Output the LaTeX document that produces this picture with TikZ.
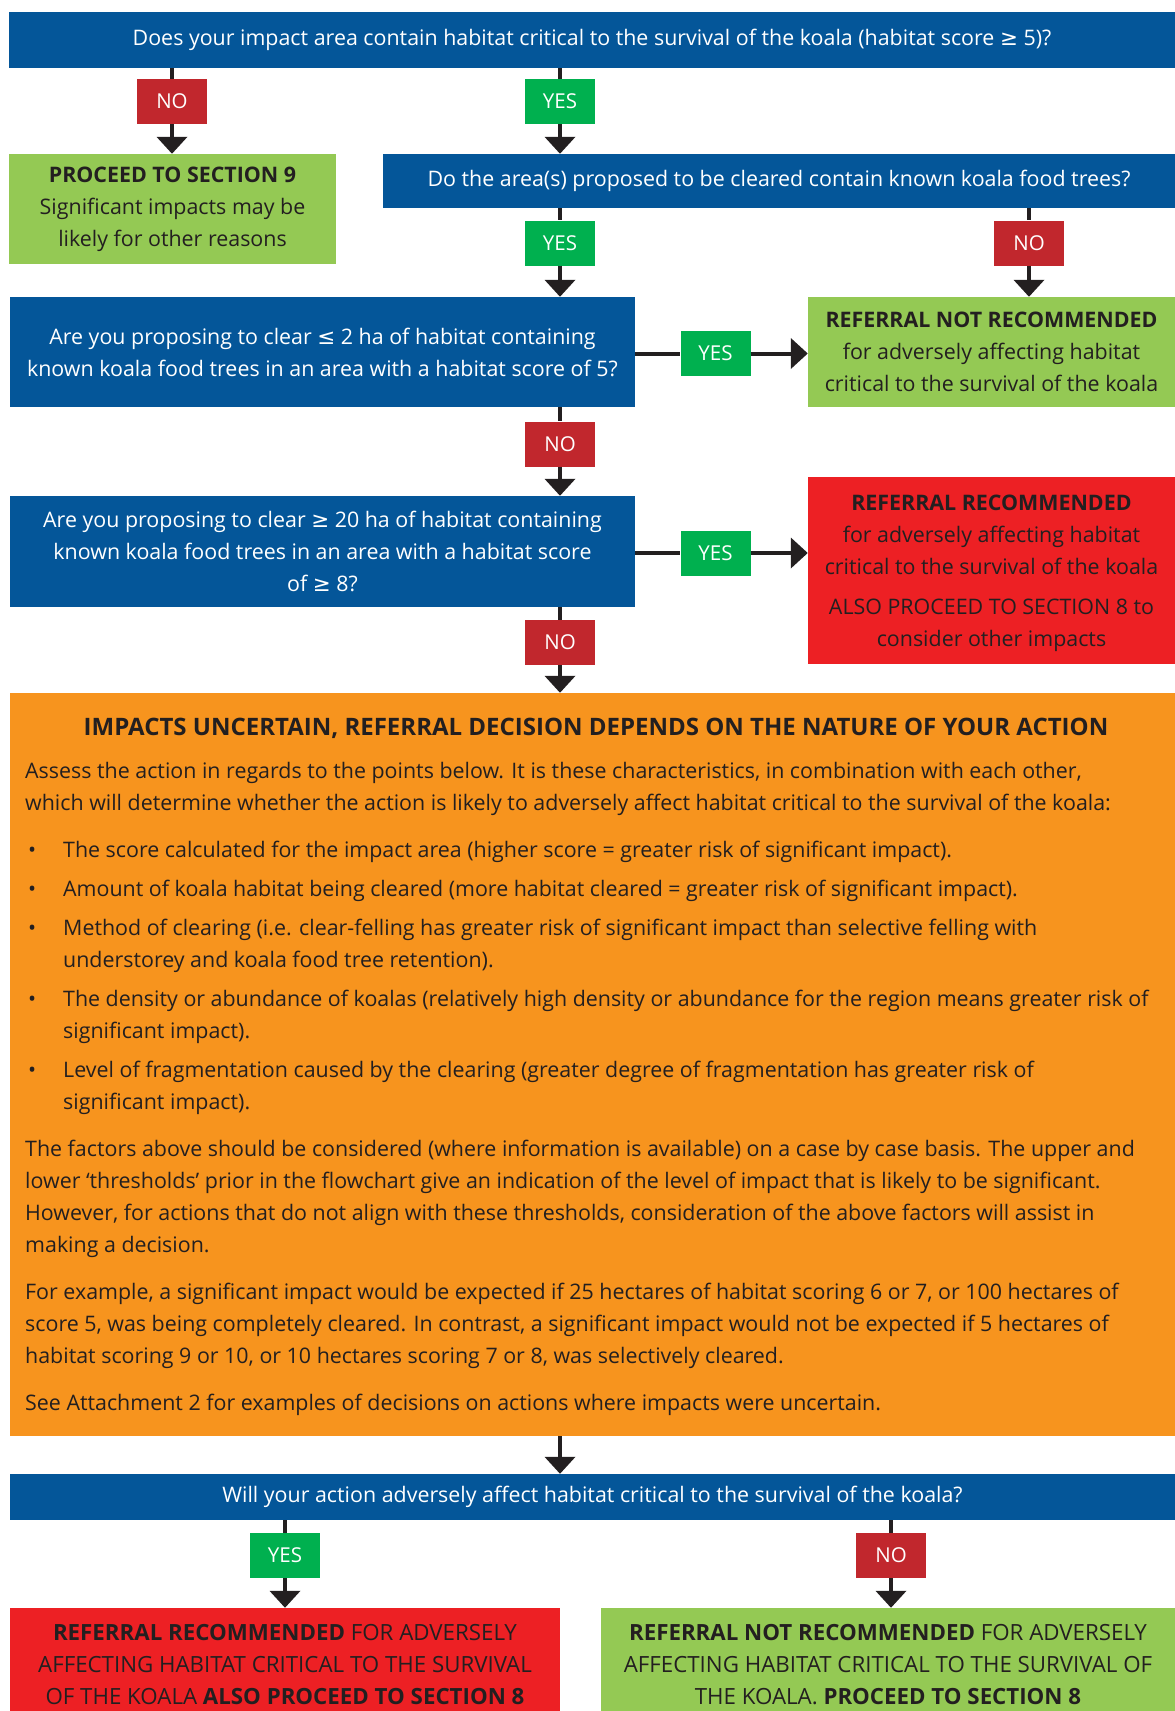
\documentclass[tikz,border=0pt]{standalone}
\usepackage{fontspec}
\setmainfont{Open Sans}
\newfontfamily\symbolfont{DejaVu Sans}
\usetikzlibrary{arrows.meta}

\definecolor{qblue}{HTML}{045699}
\definecolor{nored}{HTML}{C1272D}
\definecolor{yesgreen}{HTML}{00B04F}
\definecolor{okgreen}{HTML}{94C954}
\definecolor{recred}{HTML}{ED2024}
\definecolor{impactorange}{HTML}{F7941E}
\definecolor{ink}{HTML}{231F20}

\newcommand{\bul}{\makebox[38pt][l]{\hspace*{3pt}\textbullet}}
\newcommand{\bulgap}{\hspace*{38pt}}
\newcommand{\atleast}{{\symbolfont ≥}}
\newcommand{\atmost}{{\symbolfont ≤}}

\begin{document}
\begin{tikzpicture}[x=1pt,y=-1pt,
  every node/.style={inner sep=0pt, align=center},
  question/.style={fill=qblue, text=white, font=\fontsize{21.4}{32}\selectfont},
  yes/.style={fill=yesgreen, text=white, minimum width=70pt, minimum height=45pt, font=\fontsize{20.5}{24}\selectfont},
  no/.style={fill=nored, text=white, minimum width=70pt, minimum height=45pt, font=\fontsize{20.5}{24}\selectfont},
  outcome/.style={text=ink, font=\fontsize{21.4}{32}\selectfont},
  link/.style={draw=ink, line width=4pt},
  flow/.style={link, -{Triangle[width=30pt,length=17pt]}}]
\clip (0,0) rectangle (1175,1711);

% questions and answers, top to bottom
\node[question, minimum width=1166pt, minimum height=56pt] (q1) at (592,40)
  {Does your impact area contain habitat critical to the survival of the koala (habitat score \atleast{} 5)?};
\node[no] (no1) at (172,101.5) {NO};
\node[yes] (yes1) at (560,101.5) {YES};
\node[outcome, fill=okgreen, minimum width=327pt, minimum height=110pt] (sec9) at (172.5,209)
  {\textbf{PROCEED TO SECTION 9}\\Significant impacts may be\\likely for other reasons};
\node[question, minimum width=792pt, minimum height=54pt] (q2) at (779,181)
  {Do the area(s) proposed to be cleared contain known koala food trees?};
\node[yes] (yes2) at (560,243) {YES};
\node[no] (no2) at (1029,243) {NO};

\node[question, minimum width=625pt, minimum height=110pt] (q3) at (322.5,352)
  {Are you proposing to clear \atmost{} 2 ha of habitat containing\\known koala food trees in an area with a habitat score of 5?};
\node[yes] (yes3) at (715.5,353.5) {YES};
\node[outcome, fill=okgreen, minimum width=367pt, minimum height=110pt] (notrec) at (991.5,352)
  {\textbf{REFERRAL NOT RECOMMENDED}\\for adversely affecting habitat\\critical to the survival of the koala};
\node[no] (no3) at (560,444) {NO};

\node[question, minimum width=625pt, minimum height=111pt] (q4) at (322.5,551.5)
  {Are you proposing to clear \atleast{} 20 ha of habitat containing\\known koala food trees in an area with a habitat score\\of \atleast{} 8?};
\node[yes] (yes4) at (715.5,553) {YES};
\node[outcome, fill=recred, minimum width=367pt, minimum height=187pt, text depth=0pt] (rec) at (991.5,570.5)
  {\textbf{REFERRAL RECOMMENDED}\\for adversely affecting habitat\\critical to the survival of the koala\\[8pt]ALSO PROCEED TO SECTION 8 to\\consider other impacts};
\node[no] (no4) at (560,642.5) {NO};

% the uncertain case
\node[fill=impactorange, minimum width=1165pt, minimum height=743pt] (impacts) at (592.5,1064.5) {};
\node[text=ink, font=\bfseries\fontsize{24}{32}\selectfont] (impactstitle) at (596,728)
  {IMPACTS UNCERTAIN, REFERRAL DECISION DEPENDS ON THE NATURE OF YOUR ACTION};
\node[text=ink, align=left, anchor=north west, font=\fontsize{21.4}{32}\selectfont] (impactsbody) at (25,762)
  {Assess the action in regards to the points below. It is these characteristics, in combination with each other,\\
   which will determine whether the action is likely to adversely affect habitat critical to the survival of the koala:\\[15pt]
   \bul The score calculated for the impact area (higher score = greater risk of significant impact).\\[7pt]
   \bul Amount of koala habitat being cleared (more habitat cleared = greater risk of significant impact).\\[7pt]
   \bul Method of clearing (i.e. clear-felling has greater risk of significant impact than selective felling with\\
   \bulgap understorey and koala food tree retention).\\[7pt]
   \bul The density or abundance of koalas (relatively high density or abundance for the region means greater risk of\\
   \bulgap significant impact).\\[7pt]
   \bul Level of fragmentation caused by the clearing (greater degree of fragmentation has greater risk of\\
   \bulgap significant impact).\\[15pt]
   The factors above should be considered (where information is available) on a case by case basis. The upper and\\
   lower ‘thresholds’ prior in the flowchart give an indication of the level of impact that is likely to be significant.\\
   However, for actions that do not align with these thresholds, consideration of the above factors will assist in\\
   making a decision.\\[15pt]
   For example, a significant impact would be expected if 25 hectares of habitat scoring 6 or 7, or 100 hectares of\\
   score 5, was being completely cleared. In contrast, a significant impact would not be expected if 5 hectares of\\
   habitat scoring 9 or 10, or 10 hectares scoring 7 or 8, was selectively cleared.\\[15pt]
   See Attachment 2 for examples of decisions on actions where impacts were uncertain.};

\node[question, minimum width=1165pt, minimum height=46pt] (q5) at (592.5,1497)
  {Will your action adversely affect habitat critical to the survival of the koala?};
\node[yes] (yes5) at (285,1555.5) {YES};
\node[no] (no5) at (891,1555.5) {NO};
\node[outcome, fill=recred, minimum width=550pt, minimum height=114pt, font=\fontsize{22.3}{32}\selectfont] (finalrec) at (285,1665)
  {\textbf{REFERRAL RECOMMENDED} FOR ADVERSELY\\AFFECTING HABITAT CRITICAL TO THE SURVIVAL\\OF THE KOALA \textbf{ALSO PROCEED TO SECTION 8}};
\node[outcome, fill=okgreen, minimum width=574pt, minimum height=114pt, font=\fontsize{22.3}{32}\selectfont] (finalnotrec) at (888,1665)
  {\textbf{REFERRAL NOT RECOMMENDED} FOR ADVERSELY\\AFFECTING HABITAT CRITICAL TO THE SURVIVAL OF\\THE KOALA. \textbf{PROCEED TO SECTION 8}};

% connectors
\draw[link] (q1.south -| no1) -- (no1.north);
\draw[flow] (no1.south) -- (no1.south |- sec9.north);
\draw[link] (q1.south -| yes1) -- (yes1.north);
\draw[flow] (yes1.south) -- (yes1.south |- q2.north);
\draw[link] (q2.south -| yes2) -- (yes2.north);
\draw[flow] (yes2.south) -- (yes2.south |- q3.north);
\draw[link] (q2.south -| no2) -- (no2.north);
\draw[flow] (no2.south) -- (no2.south |- notrec.north);
\draw[link] (q3.east |- yes3) -- (yes3.west);
\draw[flow] (yes3.east) -- (yes3.east -| notrec.west);
\draw[link] (q3.south -| no3) -- (no3.north);
\draw[flow] (no3.south) -- (no3.south |- q4.north);
\draw[link] (q4.east |- yes4) -- (yes4.west);
\draw[flow] (yes4.east) -- (yes4.east -| rec.west);
\draw[link] (q4.south -| no4) -- (no4.north);
\draw[flow] (no4.south) -- (no4.south |- impacts.north);
\draw[flow] (impacts.south -| no4) -- (q5.north -| no4);
\draw[link] (q5.south -| yes5) -- (yes5.north);
\draw[flow] (yes5.south) -- (yes5.south |- finalrec.north);
\draw[link] (q5.south -| no5) -- (no5.north);
\draw[flow] (no5.south) -- (no5.south |- finalnotrec.north);
\end{tikzpicture}
\end{document}
